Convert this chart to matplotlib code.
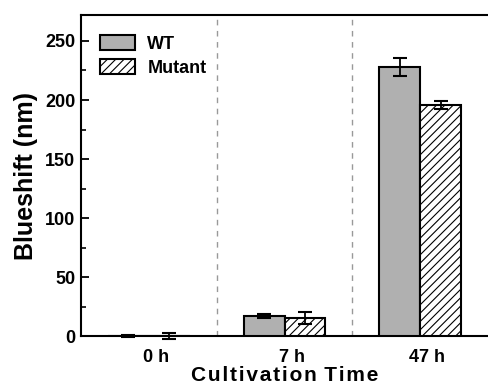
import matplotlib
matplotlib.use("Agg")
import matplotlib.pyplot as plt
import matplotlib.transforms as mtransforms
import numpy as np

plt.rcParams['font.family'] = ['Liberation Sans', 'DejaVu Sans']
plt.rcParams['font.weight'] = 'bold'
plt.rcParams['hatch.linewidth'] = 0.8

categories = ['0 h', '7 h', '47 h']
wt_values = [0.3, 17, 228]
wt_err = [0.8, 2, 8]
mut_values = [0.3, 15, 196]
mut_err = [2.5, 5, 3.5]

fig = plt.figure(figsize=(4.88, 3.85), dpi=100)
ax = fig.add_axes([0.166, 0.127, 0.834, 0.834])

x = np.arange(len(categories))
w = 0.3
ax.bar(x - w/2, wt_values, w, color='#b0b0b0', edgecolor='black', linewidth=1.5,
       label='WT', zorder=3)
ax.bar(x + w/2, mut_values, w, color='white', edgecolor='black', linewidth=1.5,
       hatch='////', label='Mutant', zorder=3)
for vals, errs, off in [(wt_values, wt_err, -w/2), (mut_values, mut_err, w/2)]:
    eb = ax.errorbar(x + off, vals, yerr=errs, fmt='none', ecolor='black',
                     elinewidth=1.3, capsize=5, capthick=1.5, zorder=4)
    for art in eb.lines[1] + eb.lines[2]:
        art.set_clip_on(False)

for xv in [0.5, 1.5]:
    ax.axvline(xv, color='#999999', linestyle=(0, (4, 4)), linewidth=1, zorder=1)

ax.set_xlim(-0.5, 2.5)
ax.set_ylim(0, 272)
ax.set_yticks([0, 50, 100, 150, 200, 250])
ax.set_yticks(np.arange(25, 272, 50), minor=True)
ax.set_xticks(x)
ax.set_xticklabels(categories)
ax.tick_params(axis='x', length=0, labelsize=13, pad=9)
ax.tick_params(axis='y', which='major', direction='in', length=6, width=1.3, labelsize=13, pad=4)
ax.tick_params(axis='y', which='minor', direction='in', length=3.5, width=1.2)
offset = mtransforms.ScaledTranslation(0.07, 0, fig.dpi_scale_trans)
for lbl in ax.get_xticklabels():
    lbl.set_fontweight('bold')
    lbl.set_transform(lbl.get_transform() + offset)
for lbl in ax.get_yticklabels():
    lbl.set_fontweight('bold')

for s in ['left', 'top', 'bottom']:
    ax.spines[s].set_linewidth(1.5)
ax.spines['right'].set_visible(False)

ax.set_ylabel('Blueshift (nm)', fontsize=18, fontweight='bold', labelpad=5)
hs = '\u200a'
xlab = hs.join('Cultivation') + ' ' + hs + hs.join('Time')
ax.set_xlabel(xlab, fontsize=15, fontweight='bold', labelpad=0)

ax.legend(loc='upper left', bbox_to_anchor=(0.03, 0.96), frameon=False,
          fontsize=13, handlelength=1.9, handleheight=0.9, labelspacing=0.35,
          handletextpad=0.7, borderaxespad=0)

fig.savefig('out.png', dpi=100)
